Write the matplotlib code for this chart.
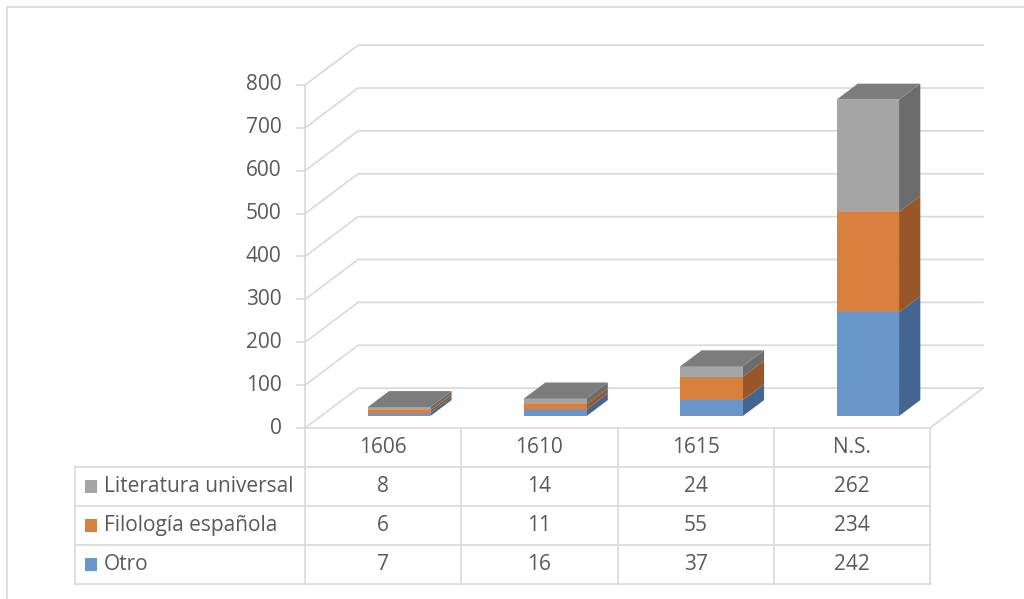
import matplotlib
matplotlib.use("Agg")
import matplotlib.pyplot as plt
from matplotlib.patches import Polygon, Rectangle

plt.rcParams['font.family'] = ['Open Sans', 'DejaVu Sans']

categories = ['1606', '1610', '1615', 'N.S.']
series_names = ['Literatura universal', 'Filología española', 'Otro']
otro = [7, 16, 37, 242]
filologia = [6, 11, 55, 234]
literatura = [8, 14, 24, 262]
y_ticks = [0, 100, 200, 300, 400, 500, 600, 700, 800]

# stacking order bottom -> top
stack = [otro, filologia, literatura]
front_colors = ['#6897cc', '#d8813f', '#a5a5a5']
side_colors = ['#44658f', '#985629', '#6c6c6c']
top_color = '#7c7c7c'
grid_color = '#d9d9d9'
text_color = '#595959'
fs = 15

W, H = 1024, 599
fig = plt.figure(figsize=(W / 100, H / 100), dpi=100)

# outer chart frame
fig.patches.append(Rectangle((7 / W, -0.05), 1.1, (H - 7) / H + 0.05,
                             transform=fig.transFigure, fill=False,
                             edgecolor=grid_color, lw=1.2))

# front plane of the plot area
ax = fig.add_axes([305 / W, (H - 428) / H, 625 / W, 343 / H])
ax.set_xlim(0, len(categories))
ax.set_ylim(0, 800)
ax.axis('off')

# depth of the walls (category units, value units)
DX, DY = 0.34, 93.0
back_right = len(categories) + DX

# back wall gridlines, bent onto the side wall
for t in y_ticks:
    ax.plot([0, DX, back_right], [t, t + DY, t + DY],
            color=grid_color, lw=1.2, clip_on=False, zorder=1)
    ax.plot([-0.05, 0], [t, t], color=grid_color, lw=1.2, clip_on=False)
    ax.text(-0.15, t, str(t), ha='right', va='center', fontsize=fs,
            color=text_color)

# side wall edge and floor
ax.plot([0, 0], [0, 800], color=grid_color, lw=1.2, clip_on=False, zorder=1)
ax.plot([len(categories), back_right], [0, DY], color=grid_color, lw=1.2,
        clip_on=False, zorder=1)

# 3D stacked bars
bar_w = 0.4
f0, f1 = 0.3, 0.7
for i in range(len(categories)):
    x0 = i + 0.5 - bar_w / 2 + f0 * DX
    x1 = x0 + bar_w
    ox, oy = (f1 - f0) * DX, (f1 - f0) * DY
    base = f0 * DY
    bottom = 0
    for s, vals in enumerate(stack):
        v = vals[i]
        y0, y1 = base + bottom, base + bottom + v
        ax.add_patch(Polygon([(x1, y0), (x1 + ox, y0 + oy), (x1 + ox, y1 + oy), (x1, y1)],
                             closed=True, facecolor=side_colors[s], edgecolor='none',
                             clip_on=False, zorder=3))
        ax.add_patch(Rectangle((x0, y0), bar_w, v, facecolor=front_colors[s],
                               edgecolor='none', clip_on=False, zorder=4))
        bottom += v
    top = base + bottom
    ax.add_patch(Polygon([(x0, top), (x1, top), (x1 + ox, top + oy), (x0 + ox, top + oy)],
                         closed=True, facecolor=top_color, edgecolor='none',
                         clip_on=False, zorder=4))

# data table underneath, sharing the category scale
left_edge = -1.472
tax = fig.add_axes([75 / W, (H - 584) / H, 855 / W, 156 / H])
tax.set_xlim(left_edge, len(categories))
tax.set_ylim(4, 0)
tax.axis('off')

n = len(categories)
tax.plot([0, n], [0, 0], color=grid_color, lw=1.2, clip_on=False)
for r in range(1, 5):
    tax.plot([left_edge, n], [r, r], color=grid_color, lw=1.2, clip_on=False)
for c in range(n + 1):
    tax.plot([c, c], [0, 4], color=grid_color, lw=1.2, clip_on=False)
tax.plot([left_edge, left_edge], [1, 4], color=grid_color, lw=1.2, clip_on=False)

for c, cat in enumerate(categories):
    tax.text(c + 0.5, 0.5, cat, ha='center', va='center', fontsize=fs,
             color=text_color)

rows = [literatura, filologia, otro]
for r, (name, vals) in enumerate(zip(series_names, rows)):
    yc = r + 1.5
    tax.add_patch(Rectangle((-1.408, yc - 0.17), 0.078, 0.34,
                            facecolor=front_colors[2 - r], edgecolor='none',
                            clip_on=False))
    tax.text(-1.285, yc, name, ha='left', va='center', fontsize=fs,
             color=text_color)
    for c, v in enumerate(vals):
        tax.text(c + 0.5, yc, str(v), ha='center', va='center', fontsize=fs,
                 color=text_color)

fig.savefig('out.png', dpi=100)
